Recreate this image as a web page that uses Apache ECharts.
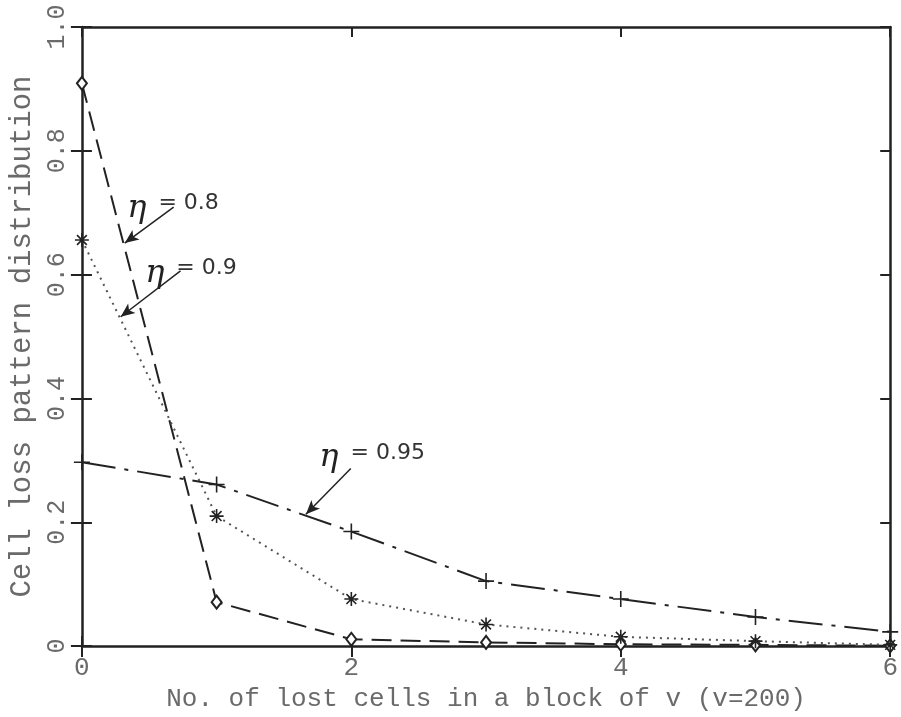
<!DOCTYPE html>
<html>
<head>
<meta charset="utf-8">
<script src="https://cdn.jsdelivr.net/npm/echarts@6/dist/echarts.min.js"></script>
<style>
  html, body { margin: 0; padding: 0; background: #fff; }
  #chart { width: 901px; height: 717px; }
</style>
</head>
<body>
<div id="chart"></div>
<script>
// 数据
var cells = [0, 1, 2, 3, 4, 5, 6];
var eta080 = [0.909, 0.071, 0.011, 0.006, 0.003, 0.002, 0.0005];
var eta090 = [0.656, 0.210, 0.076, 0.035, 0.015, 0.008, 0.002];
var eta095 = [0.297, 0.261, 0.185, 0.105, 0.076, 0.047, 0.023];
var xTicks = [0, 2, 4, 6];
var yTicks = [0, 0.2, 0.4, 0.6, 0.8, 1.0];

// 标注：文字位置和箭头（数据坐标）
var notes = [
    { text: '0.8', at: [0.333, 0.713], from: [0.681, 0.709], to: [0.318, 0.651] },
    { text: '0.9', at: [0.466, 0.608], from: [0.732, 0.606], to: [0.288, 0.532] },
    { text: '0.95', at: [1.759, 0.310], from: [1.996, 0.287], to: [1.663, 0.213] }
];

function pairs(ys) {
    return cells.map(function (x, i) { return [x, ys[i]]; });
}

var ink = '#222';
var grey = '#6a6a6a';
var plusPath = 'path://M0,5 L10,5 M5,0 L5,10';
var starPath = 'path://M0,5 L10,5 M5,0 L5,10 M1.5,1.5 L8.5,8.5 M1.5,8.5 L8.5,1.5';

function noteParts(n) {
    return {
        markPoint: {
            symbol: 'circle',
            symbolSize: 1,
            itemStyle: { color: 'rgba(0,0,0,0)' },
            label: {
                show: true,
                position: 'right',
                distance: 0,
                formatter: '{e|η}{t|= ' + n.text + '}',
                rich: {
                    e: { fontFamily: 'DejaVu Serif', fontStyle: 'italic', fontSize: 32, color: ink, padding: [8, 0, 0, 0] },
                    t: { fontFamily: 'DejaVu Sans', fontSize: 22, color: '#333', padding: [0, 0, 2, 12] }
                }
            },
            data: [{ coord: n.at }]
        },
        markLine: {
            silent: true,
            symbol: ['none', 'arrow'],
            symbolSize: [9, 14],
            label: { show: false },
            lineStyle: { color: ink, width: 1.5, type: 'solid' },
            data: [[{ coord: n.from }, { coord: n.to }]]
        }
    };
}

var myChart = echarts.init(document.getElementById('chart'));

var xBase = { type: 'value', min: 0, max: 6, interval: 2, splitLine: { show: false },
    axisLine: { onZero: false, lineStyle: { color: ink, width: 2.5 } } };
var yBase = { type: 'value', min: 0, max: 1, interval: 0.2, splitLine: { show: false },
    axisLine: { onZero: false, lineStyle: { color: ink, width: 2.5 } } };

function ext(base, more) {
    return Object.assign({}, base, more);
}

var option = {
    backgroundColor: '#fff',
    animation: false,
    grid: { left: 80, right: 10, top: 27, bottom: 70 },
    xAxis: [
        ext(xBase, {
            position: 'bottom',
            axisTick: { inside: false, length: 11, lineStyle: { color: ink, width: 2 } },
            axisLabel: { color: grey, fontFamily: 'Liberation Mono', fontSize: 26, margin: 9 },
            name: 'No. of lost cells in a block of v (v=200)',
            nameLocation: 'middle',
            nameGap: 31,
            nameTextStyle: { color: grey, fontFamily: 'Liberation Mono', fontSize: 26 }
        }),
        ext(xBase, { position: 'bottom', axisLine: { show: false },
            axisTick: { inside: true, length: 10, lineStyle: { color: ink, width: 2 } }, axisLabel: { show: false } }),
        ext(xBase, { position: 'top',
            axisTick: { inside: true, length: 10, lineStyle: { color: ink, width: 2 } }, axisLabel: { show: false } }),
        ext(xBase, { position: 'top', axisLine: { show: false },
            axisTick: { inside: false, length: 8, lineStyle: { color: ink, width: 2 } }, axisLabel: { show: false } })
    ],
    yAxis: [
        ext(yBase, {
            position: 'left',
            axisTick: { inside: false, length: 11, lineStyle: { color: ink, width: 2 } },
            axisLabel: {
                color: grey, fontFamily: 'Liberation Mono', fontSize: 25, rotate: 90, margin: 12,
                formatter: function (v) { return v === 0 ? '0' : v.toFixed(1); }
            },
            name: 'Cell loss pattern distribution',
            nameLocation: 'middle',
            nameRotate: 90,
            nameGap: 33,
            nameTextStyle: { color: grey, fontFamily: 'Liberation Mono', fontSize: 29 }
        }),
        ext(yBase, { position: 'left', axisLine: { show: false },
            axisTick: { inside: true, length: 10, lineStyle: { color: ink, width: 2 } }, axisLabel: { show: false } }),
        ext(yBase, { position: 'right',
            axisTick: { inside: true, length: 10, lineStyle: { color: ink, width: 2 } }, axisLabel: { show: false } }),
        ext(yBase, { position: 'right', axisLine: { show: false },
            axisTick: { inside: false, length: 8, lineStyle: { color: ink, width: 2 } }, axisLabel: { show: false } })
    ],
    series: [
        Object.assign({
            name: 'η = 0.8',
            type: 'line',
            data: pairs(eta080),
            symbol: 'emptyDiamond',
            symbolSize: [10, 13],
            itemStyle: { color: ink, borderWidth: 1.5 },
            lineStyle: { color: ink, width: 2, type: [20, 9] },
            z: 3
        }, noteParts(notes[0])),
        Object.assign({
            name: 'η = 0.9',
            type: 'line',
            data: pairs(eta090),
            symbol: starPath,
            symbolSize: 14,
            itemStyle: { color: ink, borderColor: ink, borderWidth: 1.6 },
            lineStyle: { color: '#555', width: 2, type: [2, 5] },
            z: 4
        }, noteParts(notes[1])),
        Object.assign({
            name: 'η = 0.95',
            type: 'line',
            data: pairs(eta095),
            symbol: plusPath,
            symbolSize: 16,
            itemStyle: { color: ink, borderColor: ink, borderWidth: 1.6 },
            lineStyle: { color: ink, width: 2, type: [34, 9, 4, 9] },
            z: 5
        }, noteParts(notes[2]))
    ]
};

myChart.setOption(option);
</script>
</body>
</html>
